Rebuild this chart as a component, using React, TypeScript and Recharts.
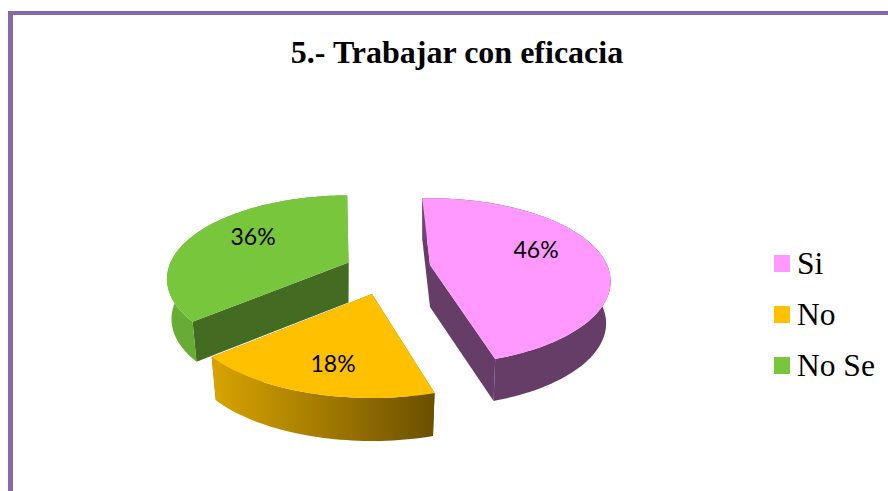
import React from 'react';
import { PieChart, Pie, Legend } from 'recharts';

const categories = ['Si', 'No', 'No Se'];
const values = [46, 18, 36];
const topColors = ['#FF99FF', '#FFC000', '#78C63C'];

const data = categories.map((name, i) => ({ name, value: values[i], fill: topColors[i] }));

// Excel style 3D look: every slice is exploded on its own, so each gets its own view
const VIEWS: Record<string, any> = {
  Si: { ax: 430, ay: 265, turn: 1, scale: 0.995, depth: 42, label: [106, -16], wall: 'url(#wallSi)', side: '#663D66', strip: '#663D66' },
  No: { ax: 372, ay: 294, turn: 2.5, scale: 1.04, depth: 43, label: [-39, 69], wall: 'url(#wallNo)', side: '#8A6800', strip: '#8A6800' },
  'No Se': { ax: 348.5, ay: 262.5, turn: 3.5, scale: 1, depth: 40, label: [-95.5, -26.5], wall: 'url(#wallNoSe)', side: '#436B21', strip: '#62A32F' },
};

const RX = 178;
const RY = 80.3;
const PERSP = 0.197;
const BASE_SHRINK = 0.975;

const project = (view: any, clockwise: number, r: number) => {
  const a = ((clockwise + view.turn) * Math.PI) / 180;
  const u = r * Math.sin(a);
  const v = -r * Math.cos(a);
  const d = 1 - PERSP * v;
  return [(RX * view.scale * u) / d, (RY * view.scale * v) / d];
};

const toTop = (view: any, p: number[]) => [view.ax + p[0], view.ay + p[1]];
const toBase = (view: any, p: number[]) => [view.ax + p[0] * BASE_SHRINK, view.ay + p[1] + view.depth];
const toPath = (pts: number[][]) =>
  'M' + pts.map((p) => `${p[0].toFixed(1)},${p[1].toFixed(1)}`).join('L') + 'Z';

const Slice3D = (props: any) => {
  const view = VIEWS[props.name];
  const from = 90 - props.startAngle;
  const to = 90 - props.endAngle;
  const rim: number[][] = [];
  for (let c = from; c < to; c += 1.5) rim.push(project(view, c, 1));
  rim.push(project(view, to, 1));

  const first = rim[0];
  const last = rim[rim.length - 1];
  const outerWall = [...rim.map((p) => toTop(view, p)), ...rim.slice().reverse().map((p) => toBase(view, p))];
  const quad = (p: number[]) => [toTop(view, p), toBase(view, p), toBase(view, [0, 0]), toTop(view, [0, 0])];

  return (
    <g>
      <path d={toPath(quad(last))} fill={view.strip} />
      <path d={toPath(quad(first))} fill={view.side} />
      <path d={toPath(outerWall)} fill={view.wall} />
      <path d={toPath([[view.ax, view.ay], ...rim.map((p) => toTop(view, p))])} fill={props.fill} />
    </g>
  );
};

const renderLabel = (props: any) => {
  const view = VIEWS[props.name];
  return (
    <text
      x={view.ax + view.label[0]}
      y={view.ay + view.label[1]}
      textAnchor="middle"
      dominantBaseline="central"
      fontFamily="Lato"
      fontSize={23}
      fill="#000"
    >
      {props.value}%
    </text>
  );
};

const LegendList = ({ payload }: any) => (
  <div style={{ fontFamily: '"Liberation Serif"', fontSize: 31.5, color: '#000' }}>
    {(payload || []).map((entry: any) => (
      <div key={entry.value} style={{ height: 51, lineHeight: '51px', display: 'flex', alignItems: 'center' }}>
        <span style={{ width: 16, height: 17, background: entry.color, marginRight: 7, flex: 'none' }} />
        {entry.value}
      </div>
    ))}
  </div>
);

export default function App() {
  return (
    <div style={{ position: 'absolute', left: 0, top: 0, width: 888, height: 491, overflow: 'hidden', background: '#fff' }}>
      <div
        style={{
          position: 'absolute',
          left: 8,
          top: 11,
          width: 880,
          height: 480,
          boxSizing: 'border-box',
          borderLeft: '5.5px solid #8669A6',
          borderTop: '4px solid #8669A6',
        }}
      />
      <PieChart width={888} height={491} style={{ position: 'absolute', left: 0, top: 0 }}>
        <defs>
          <linearGradient id="wallSi" x1="0" y1="0" x2="1" y2="0">
            <stop offset="0" stopColor="#704672" />
            <stop offset="0.25" stopColor="#663D66" />
            <stop offset="1" stopColor="#663D66" />
          </linearGradient>
          <linearGradient id="wallNo" x1="0" y1="0" x2="1" y2="0">
            <stop offset="0" stopColor="#D9A400" />
            <stop offset="1" stopColor="#6B5000" />
          </linearGradient>
          <linearGradient id="wallNoSe" x1="0" y1="0" x2="1" y2="0">
            <stop offset="0" stopColor="#68AE35" />
            <stop offset="1" stopColor="#5E9C2D" />
          </linearGradient>
        </defs>
        <text
          x={457}
          y={63}
          textAnchor="middle"
          fontFamily="Liberation Serif"
          fontWeight="bold"
          fontSize={32}
          fill="#000"
        >
          5.- Trabajar con eficacia
        </text>
        <Pie
          data={data}
          dataKey="value"
          nameKey="name"
          cx={390}
          cy={270}
          outerRadius={120}
          startAngle={94}
          endAngle={-266}
          stroke="none"
          label={renderLabel}
          labelLine={false}
          shape={Slice3D}
          activeShape={Slice3D}
          inactiveShape={Slice3D}
          isAnimationActive={false}
        />
        <Legend
          layout="vertical"
          align="right"
          verticalAlign="top"
          itemSorter={null}
          content={<LegendList />}
          wrapperStyle={{ position: 'absolute', left: 774, top: 238, width: 114 }}
        />
      </PieChart>
    </div>
  );
}
